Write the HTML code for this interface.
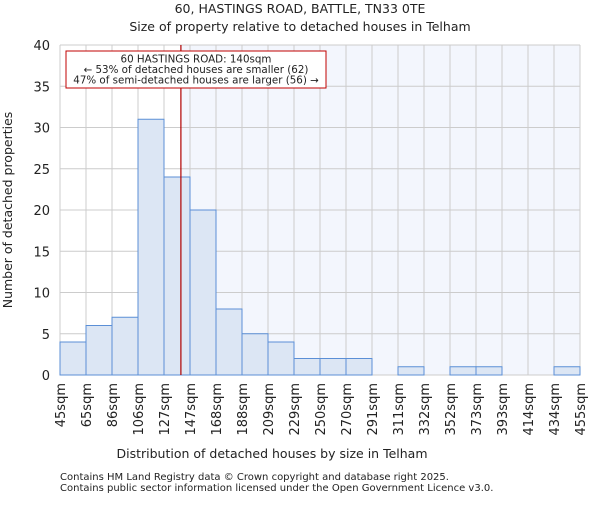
<!DOCTYPE html>
<html><head><meta charset="utf-8"><style>
body{margin:0;background:#fff;}
svg text{font-family:"DejaVu Sans","Liberation Sans",sans-serif;fill:#222;}
</style></head><body>
<svg id="chart" width="600" height="500" xmlns="http://www.w3.org/2000/svg">
<text x="300" y="13" font-size="12.5" text-anchor="middle">60, HASTINGS ROAD, BATTLE, TN33 0TE</text>
<text x="300" y="31" font-size="12.5" text-anchor="middle">Size of property relative to detached houses in Telham</text>
<g id="plot"></g>
<text x="272" y="458" font-size="12.5" text-anchor="middle">Distribution of detached houses by size in Telham</text>
<text transform="translate(12,210) rotate(-90)" font-size="12.5" text-anchor="middle">Number of detached properties</text>
<text x="60" y="480" font-size="10">Contains HM Land Registry data © Crown copyright and database right 2025.</text>
<text x="60" y="491" font-size="10">Contains public sector information licensed under the Open Government Licence v3.0.</text>
</svg>
<script>
const edgeLabels=["45sqm","65sqm","86sqm","106sqm","127sqm","147sqm","168sqm","188sqm","209sqm","229sqm","250sqm","270sqm","291sqm","311sqm","332sqm","352sqm","373sqm","393sqm","414sqm","434sqm","455sqm"];
const counts=[4,6,7,31,24,20,8,5,4,2,2,2,0,1,0,1,1,0,0,1];
const yTicks=[0,5,10,15,20,25,30,35,40];
const propertyIndex=4.65; // 140sqm position in bin units
const NS="http://www.w3.org/2000/svg";
const L=60,R=580,T=45,B=375,yMax=40;
const bw=(R-L)/counts.length;
const x=i=>L+i*bw;
const y=v=>B-(v/yMax)*(B-T);
const g=document.getElementById('plot');
function mk(tag,attrs){const e=document.createElementNS(NS,tag);for(const k in attrs)e.setAttribute(k,attrs[k]);g.appendChild(e);return e;}
const px=x(propertyIndex);
let e=mk('rect',{x:px,y:T,width:R-px,height:B-T,fill:'#f3f6fd'});


yTicks.forEach(t=>{const l=mk('line',{x1:L,x2:R,y1:y(t),y2:y(t),stroke:'#cccccc','stroke-width':1});


const tx=mk('text',{x:L-10,y:y(t)+5,'font-size':13,'text-anchor':'end'});tx.textContent=t;

});
edgeLabels.forEach((lab,i)=>{const l=mk('line',{x1:x(i),x2:x(i),y1:T,y2:B,stroke:'#cccccc','stroke-width':1});


const tx=mk('text',{transform:`translate(${x(i)+5},${B+8}) rotate(-90)`,'font-size':13,'text-anchor':'end'});tx.textContent=lab;

});
counts.forEach((c,i)=>{if(c<=0)return;const r=mk('rect',{x:x(i),y:y(c),width:bw,height:B-y(c),fill:'#dce6f4',stroke:'#5b8fd6','stroke-width':1});

});
e=mk('line',{x1:px,x2:px,y1:T,y2:B,stroke:'#b00000','stroke-width':1.2});


e=mk('rect',{x:66,y:51,width:260,height:37,fill:'#fff',stroke:'#c00000','stroke-width':1});


["60 HASTINGS ROAD: 140sqm","← 53% of detached houses are smaller (62)","47% of semi-detached houses are larger (56) →"].forEach((s,i)=>{const t=mk('text',{x:196,y:62.5+i*10.5,'font-size':10.3,'text-anchor':'middle'});t.textContent=s;

});
</script>
</body></html>
